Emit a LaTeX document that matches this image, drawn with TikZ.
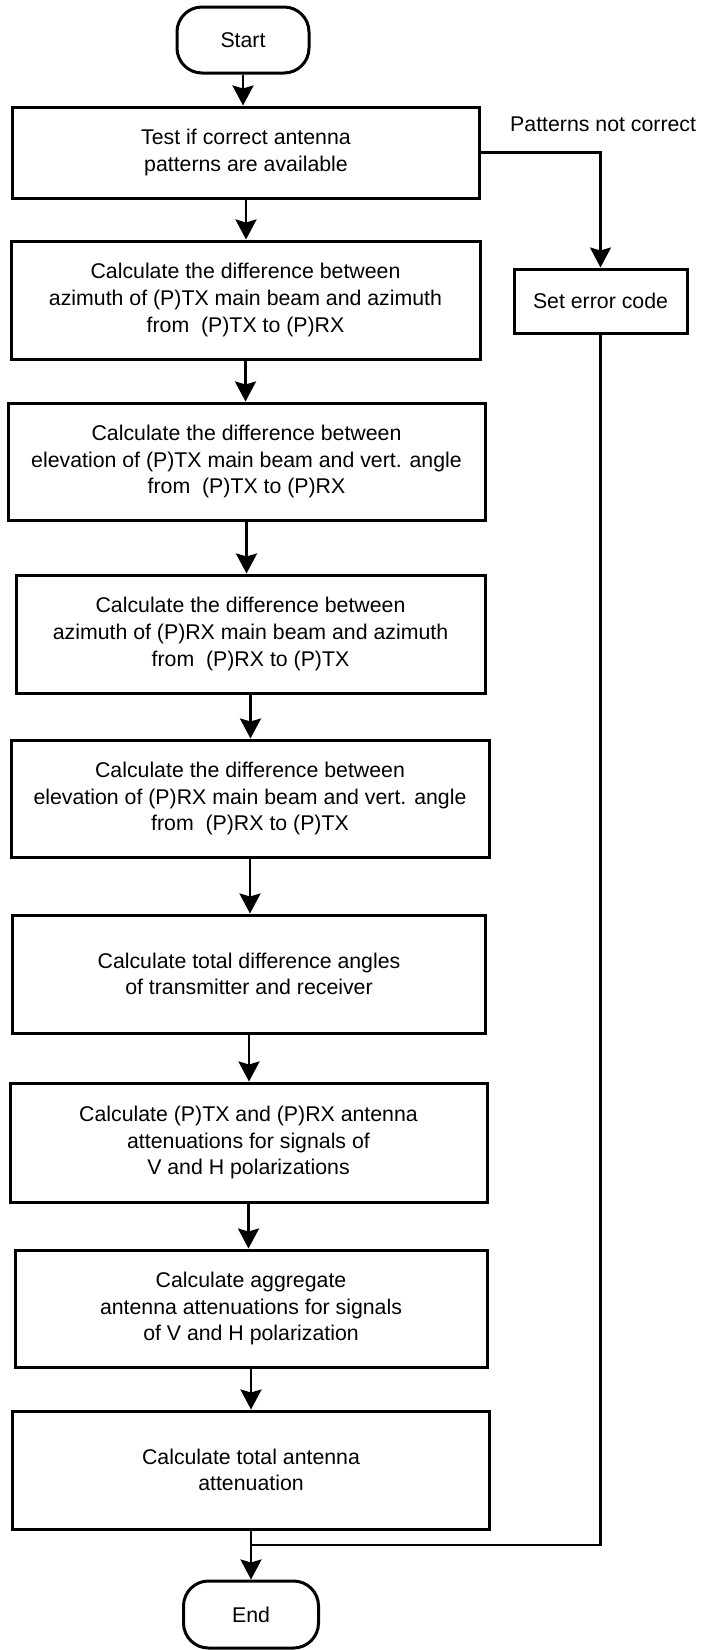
\documentclass[tikz,border=0pt]{standalone}
\usepackage{fontspec}
\setmainfont{Liberation Sans}
\usetikzlibrary{arrows.meta}
\begin{document}
\begin{tikzpicture}[x=1pt,y=-1pt,
  every node/.style={font=\fontsize{21.3}{26.7}\selectfont},
  procbox/.style={draw, line width=3pt, rectangle, inner sep=0pt, align=center},
  termbox/.style={draw, line width=3pt, rectangle, rounded corners=25pt, inner sep=0pt, align=center},
  arr/.style={line width=2.8pt, -{Stealth[length=20pt,width=21pt,inset=3pt]}},
  flow/.style={line width=2.4pt}]
\useasboundingbox (0,0) rectangle (701,1650);
\node[termbox, minimum width=132pt, minimum height=66pt] (start) at (243,40) {Start};
\node[procbox, minimum width=467pt, minimum height=91pt] (b1) at (246,152.5) {Test if correct antenna\\patterns are available};
\node[procbox, minimum width=469pt, minimum height=118pt] (b2) at (245.5,300) {Calculate the difference between\\azimuth of (P)TX main beam and azimuth\\from~ (P)TX to (P)RX};
\node[procbox, minimum width=477pt, minimum height=117pt] (b3) at (246.5,461.5) {Calculate the difference between\\elevation of (P)TX main beam and vert. angle\\from~ (P)TX to (P)RX};
\node[procbox, minimum width=469pt, minimum height=118pt] (b4) at (250.5,634) {Calculate the difference between\\azimuth of (P)RX main beam and azimuth\\from~ (P)RX to (P)TX};
\node[procbox, minimum width=478pt, minimum height=117pt] (b5) at (250,798.5) {Calculate the difference between\\elevation of (P)RX main beam and vert. angle\\from~ (P)RX to (P)TX};
\node[procbox, minimum width=472.5pt, minimum height=118pt] (b6) at (249,974) {Calculate total difference angles\\of transmitter and receiver};
\node[procbox, minimum width=477pt, minimum height=119pt] (b7) at (248.5,1142.5) {Calculate (P)TX and (P)RX antenna\\attenuations for signals of\\V and H polarizations};
\node[procbox, minimum width=472pt, minimum height=117pt] (b8) at (251,1308.5) {Calculate aggregate\\antenna attenuations for signals\\of V and H polarization};
\node[procbox, minimum width=476.5pt, minimum height=118pt] (b9) at (251,1470) {Calculate total antenna\\attenuation};
\node[termbox, minimum width=135pt, minimum height=67pt] (end) at (251,1614.5) {End};
\node[procbox, minimum width=173pt, minimum height=64pt] (err) at (600.5,301) {Set error code};
\node[anchor=west, inner sep=0pt] (lbl) at (510,124) {Patterns not correct};
\coordinate (merge) at (251,1545);

\draw[arr] (start.south) -- (start.south |- b1.north);
\draw[arr] (b1.south) -- (b1.south |- b2.north);
\draw[arr] (b2.south) -- (b2.south |- b3.north);
\draw[arr] (b3.south) -- (b3.south |- b4.north);
\draw[arr] (b4.south) -- (b4.south |- b5.north);
\draw[arr] (b5.south) -- (b5.south |- b6.north);
\draw[arr] (b6.south) -- (b6.south |- b7.north);
\draw[arr] (b7.south) -- (b7.south |- b8.north);
\draw[arr] (b8.south) -- (b8.south |- b9.north);
\draw[arr] (b9.south) -- (end.north);
\draw[flow, -{Stealth[length=20pt,width=21pt,inset=3pt]}] (b1.east) -| (err.north);
\draw[flow] (err.south) |- (merge);
\end{tikzpicture}
\end{document}
